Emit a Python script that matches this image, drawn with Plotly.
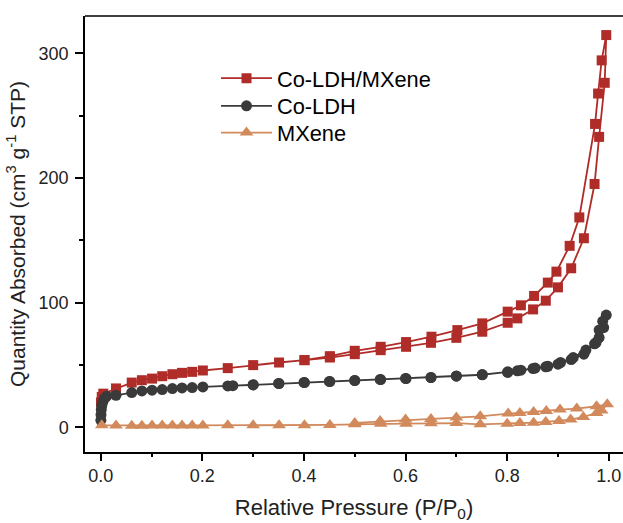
import plotly.graph_objects as go

# Co-LDH/MXene (adsorption then desorption)
red_x = [0.0005, 0.002, 0.005, 0.030, 0.061, 0.081, 0.101, 0.121, 0.141, 0.160, 0.180, 0.201,
         0.250, 0.300, 0.351, 0.401, 0.451, 0.500, 0.551, 0.601, 0.650, 0.700, 0.751, 0.801,
         0.820, 0.851, 0.876, 0.900, 0.926, 0.951, 0.972, 0.981, 0.992, 0.995,
         0.986, 0.979, 0.973, 0.942, 0.923, 0.897, 0.880, 0.853, 0.827, 0.801, 0.751, 0.702,
         0.651, 0.601, 0.551, 0.500, 0.451, 0.401]
red_y = [20.0, 24.4, 27.0, 31.2, 35.9, 37.8, 39.1, 41.0, 42.6, 43.7, 44.5, 45.6,
         47.5, 49.9, 52.0, 53.9, 56.0, 58.7, 61.9, 64.6, 67.8, 71.8, 76.7, 83.9,
         87.4, 94.6, 101.6, 112.3, 127.6, 151.7, 195.2, 233.0, 276.4, 314.7,
         294.4, 267.8, 243.4, 168.4, 145.6, 124.9, 116.1, 105.4, 97.9, 92.8, 83.4, 78.0,
         72.7, 68.4, 64.6, 61.4, 57.1, 53.9]

# Co-LDH
blk_x = [0.0002, 0.0005, 0.001, 0.002, 0.004, 0.007, 0.012, 0.030, 0.061, 0.081, 0.101, 0.121,
         0.141, 0.160, 0.180, 0.201, 0.250, 0.300, 0.351, 0.401, 0.451, 0.500, 0.551, 0.601,
         0.650, 0.700, 0.751, 0.801, 0.820, 0.851, 0.876, 0.900, 0.926, 0.951, 0.972, 0.981,
         0.990, 0.995,
         0.988, 0.981, 0.975, 0.955, 0.930, 0.905, 0.880, 0.855, 0.827, 0.801, 0.751, 0.700,
         0.650, 0.600, 0.550, 0.500, 0.450, 0.400, 0.350, 0.300, 0.260]
blk_y = [5.6, 10.0, 14.0, 17.5, 20.5, 23.0, 25.0, 25.7, 27.9, 29.2, 29.8, 30.3,
         31.1, 31.6, 31.9, 32.4, 33.2, 34.0, 35.1, 35.9, 36.7, 37.5, 38.3, 39.1,
         39.9, 41.0, 42.1, 44.0, 45.3, 47.2, 48.5, 50.7, 54.4, 58.7, 67.0, 72.0,
         80.0, 90.1,
         85.0, 78.0, 68.0, 62.0, 56.0, 52.0, 49.0, 47.5, 45.8, 44.5, 42.3, 41.2,
         40.0, 39.2, 38.4, 37.6, 36.8, 36.0, 35.2, 34.2, 33.4]

# MXene
mx_x = [0.002, 0.030, 0.061, 0.081, 0.101, 0.121, 0.141, 0.160, 0.180, 0.201, 0.250, 0.300,
        0.351, 0.401, 0.451, 0.500, 0.551, 0.601, 0.650, 0.700, 0.747, 0.800, 0.825, 0.852,
        0.876, 0.902, 0.925, 0.950, 0.976, 0.986, 0.997,
        0.976, 0.937, 0.904, 0.877, 0.852, 0.825, 0.802, 0.747, 0.700, 0.650, 0.600, 0.550,
        0.500]
mx_y = [1.6, 1.5, 1.3, 1.2, 1.4, 1.4, 1.4, 1.5, 1.5, 1.5, 1.6, 1.6,
        1.7, 1.6, 1.9, 2.4, 2.9, 2.9, 3.2, 3.4, 2.4, 2.9, 3.5, 3.7,
        4.3, 5.1, 6.2, 8.3, 11.5, 13.5, 18.5,
        16.9, 15.0, 14.2, 13.1, 12.3, 11.5, 11.0, 8.8, 7.8, 6.7, 6.2, 5.1,
        3.5]

names = ["Co-LDH/MXene", "Co-LDH", "MXene"]
colors = ["#B02C28", "#3A3A3A", "#D28A5C"]
symbols = ["square", "circle", "triangle-up"]
sizes = [10, 11, 12]
legend_ids = ["legend", "legend2", "legend3"]
row_tops_px = [57.5, 85.2, 111.9]   # top of each legend row, pixels from top of page

fig = go.Figure()
for xs, ys, n, c, s, sz, lg in zip([red_x, blk_x, mx_x], [red_y, blk_y, mx_y], names, colors,
                                   symbols, sizes, legend_ids):
    fig.add_trace(go.Scatter(x=xs, y=ys, name=n, mode="lines+markers", legend=lg,
                             line=dict(color=c, width=1.8),
                             marker=dict(symbol=s, size=sz, color=c)))

font = "Liberation Sans, Arial, sans-serif"
plot_top, plot_h = 16, 436


def legend_cfg(top_px):
    return dict(x=0.2435, y=1 - (top_px - plot_top) / plot_h, xanchor="left", yanchor="top",
                font=dict(size=21.8, color="black"), itemwidth=51,
                bgcolor="rgba(0,0,0,0)", borderwidth=0)


fig.update_layout(
    width=623, height=523,
    margin=dict(l=85, r=0, t=16, b=71),
    paper_bgcolor="white", plot_bgcolor="white",
    font=dict(family=font, color="black"),
    showlegend=True,
    legend=legend_cfg(row_tops_px[0]),
    legend2=legend_cfg(row_tops_px[1]),
    legend3=legend_cfg(row_tops_px[2]),
    xaxis=dict(range=[-0.031, 1.028], tickvals=[0, 0.2, 0.4, 0.6, 0.8, 1.0],
               tickformat=".1f", ticks="outside", ticklen=7, tickwidth=1.5,
               tickcolor="black", showline=True, linecolor="black", linewidth=1.5,
               showgrid=False, zeroline=False, tickfont=dict(size=18, color="#222"),
               minor=dict(ticks="outside", ticklen=3, tickwidth=1.5, tickcolor="black",
                          tickvals=[0.1, 0.3, 0.5, 0.7, 0.9]),
               title=dict(text="Relative Pressure (P/P<sub>0</sub>)",
                          font=dict(size=22, color="#222"), standoff=14)),
    yaxis=dict(range=[-19.8, 330], tickvals=[0, 100, 200, 300], ticks="outside",
               ticklen=8, tickwidth=1.5, tickcolor="black", showline=True,
               linecolor="black", linewidth=1.5, showgrid=False, zeroline=False,
               tickfont=dict(size=18, color="#222"), ticklabelstandoff=3,
               minor=dict(ticks="outside", ticklen=4, tickwidth=1.5, tickcolor="black",
                          tickvals=[50, 150, 250]),
               title=dict(text="Quantity Absorbed (cm<sup>3</sup> g<sup>-1</sup> STP)",
                          font=dict(size=21, color="#222"), standoff=7)),
    shapes=[dict(type="line", xref="paper", yref="paper", x0=0, x1=1, y0=1, y1=1,
                 line=dict(color="black", width=1.5))],
)

fig.write_html("out.html")
